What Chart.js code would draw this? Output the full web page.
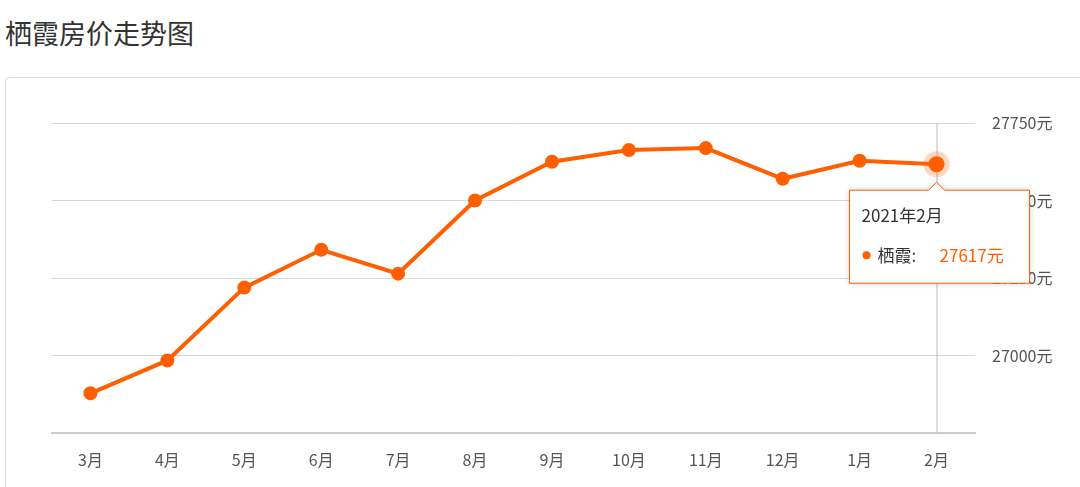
<!DOCTYPE html>
<html><head><meta charset="utf-8">
<script src="https://cdn.jsdelivr.net/npm/chart.js@4"></script>
<style>
body{margin:0;background:#fff;font-family:"Noto Sans CJK SC",sans-serif;}
#title{position:absolute;left:5px;top:13px;font-size:27px;color:#333;}
#box{position:absolute;left:5px;top:77px;width:1090px;height:420px;border:1px solid #ddd;border-radius:4px;}
#wrap{position:absolute;left:0;top:77px;width:1080px;height:410px;}
</style></head>
<body>
<div id="title">栖霞房价走势图</div>
<div id="box"></div>
<div id="wrap"><canvas id="c"></canvas></div>
<script>
const months = ['3月','4月','5月','6月','7月','8月','9月','10月','11月','12月','1月','2月'];
const prices = [26878,26984,27219,27341,27264,27500,27625,27663,27669,27570,27628,27617];
const seriesName = '栖霞';
const tipTitle = '2021年2月';
const orange = '#ff5f00';

// hover-style marker, crosshair and tooltip on the last point
const tipPlugin = {
  id: 'tip',
  beforeDatasetsDraw(chart) {
    const ctx = chart.ctx, pt = chart.getDatasetMeta(0).data[prices.length - 1];
    ctx.save();
    ctx.strokeStyle = '#bbb'; ctx.lineWidth = 1;
    ctx.beginPath(); ctx.moveTo(pt.x + 0.5, chart.chartArea.top); ctx.lineTo(pt.x + 0.5, chart.chartArea.bottom); ctx.stroke();
    ctx.restore();
  },
  afterDatasetsDraw(chart) {
    const ctx = chart.ctx, pt = chart.getDatasetMeta(0).data[prices.length - 1];
    ctx.save();
    ctx.fillStyle = 'rgba(255,95,0,0.25)';
    ctx.beginPath(); ctx.arc(pt.x, pt.y, 13, 0, Math.PI * 2); ctx.fill();
    ctx.fillStyle = orange;
    ctx.beginPath(); ctx.arc(pt.x, pt.y, 8, 0, Math.PI * 2); ctx.fill();
    const x = pt.x - 87, y = pt.y + 26, w = 180, h = 93;
    ctx.shadowColor = 'rgba(0,0,0,0.2)'; ctx.shadowBlur = 6;
    ctx.fillStyle = '#fff'; ctx.strokeStyle = orange; ctx.lineWidth = 1;
    ctx.beginPath();
    ctx.moveTo(x, y); ctx.lineTo(pt.x - 8, y); ctx.lineTo(pt.x, y - 8); ctx.lineTo(pt.x + 8, y);
    ctx.lineTo(x + w, y); ctx.lineTo(x + w, y + h); ctx.lineTo(x, y + h); ctx.closePath();
    ctx.fill(); ctx.shadowBlur = 0; ctx.stroke();
    ctx.font = '17px "Noto Sans CJK SC"'; ctx.textBaseline = 'middle';
    ctx.fillStyle = '#333'; ctx.fillText(tipTitle, x + 12, y + 25);
    ctx.fillStyle = orange; ctx.beginPath(); ctx.arc(x + 17, y + 65, 4, 0, Math.PI * 2); ctx.fill();
    ctx.fillStyle = '#333'; ctx.fillText(seriesName + ':', x + 28, y + 65);
    ctx.fillStyle = orange; ctx.fillText(prices[prices.length - 1] + '元', x + 90, y + 65);
    ctx.restore();
  }
};

new Chart(document.getElementById('c'), {
  type: 'line',
  data: { labels: months, datasets: [{ data: prices, borderColor: orange, backgroundColor: orange,
    borderWidth: 4, pointRadius: 5, pointBackgroundColor: orange, tension: 0 }] },
  options: {
    responsive: true, maintainAspectRatio: false, animation: false,
    layout: { padding: { left: 52, top: 46, right: 0, bottom: 0 } },
    plugins: { legend: { display: false }, tooltip: { enabled: false } },
    events: [],
    scales: {
      x: { offset: true, grid: { display: false }, border: { color: '#ccc', width: 2 },
        ticks: { color: '#555', font: { size: 16, family: '"Noto Sans CJK SC"' }, padding: 9 },
        afterFit(s) { s.height = 54; } },
      y: { position: 'right', min: 26750, max: 27750,
        grid: { color: '#d8d8d8', drawTicks: false }, border: { display: false },
        ticks: { stepSize: 250, padding: 17, color: '#555', font: { size: 16, family: '"Noto Sans CJK SC"' },
          callback: v => v === 26750 ? '' : v + '元' },
        afterFit(s) { s.width = 105; } }
    }
  },
  plugins: [tipPlugin]
});
</script>
</body></html>
